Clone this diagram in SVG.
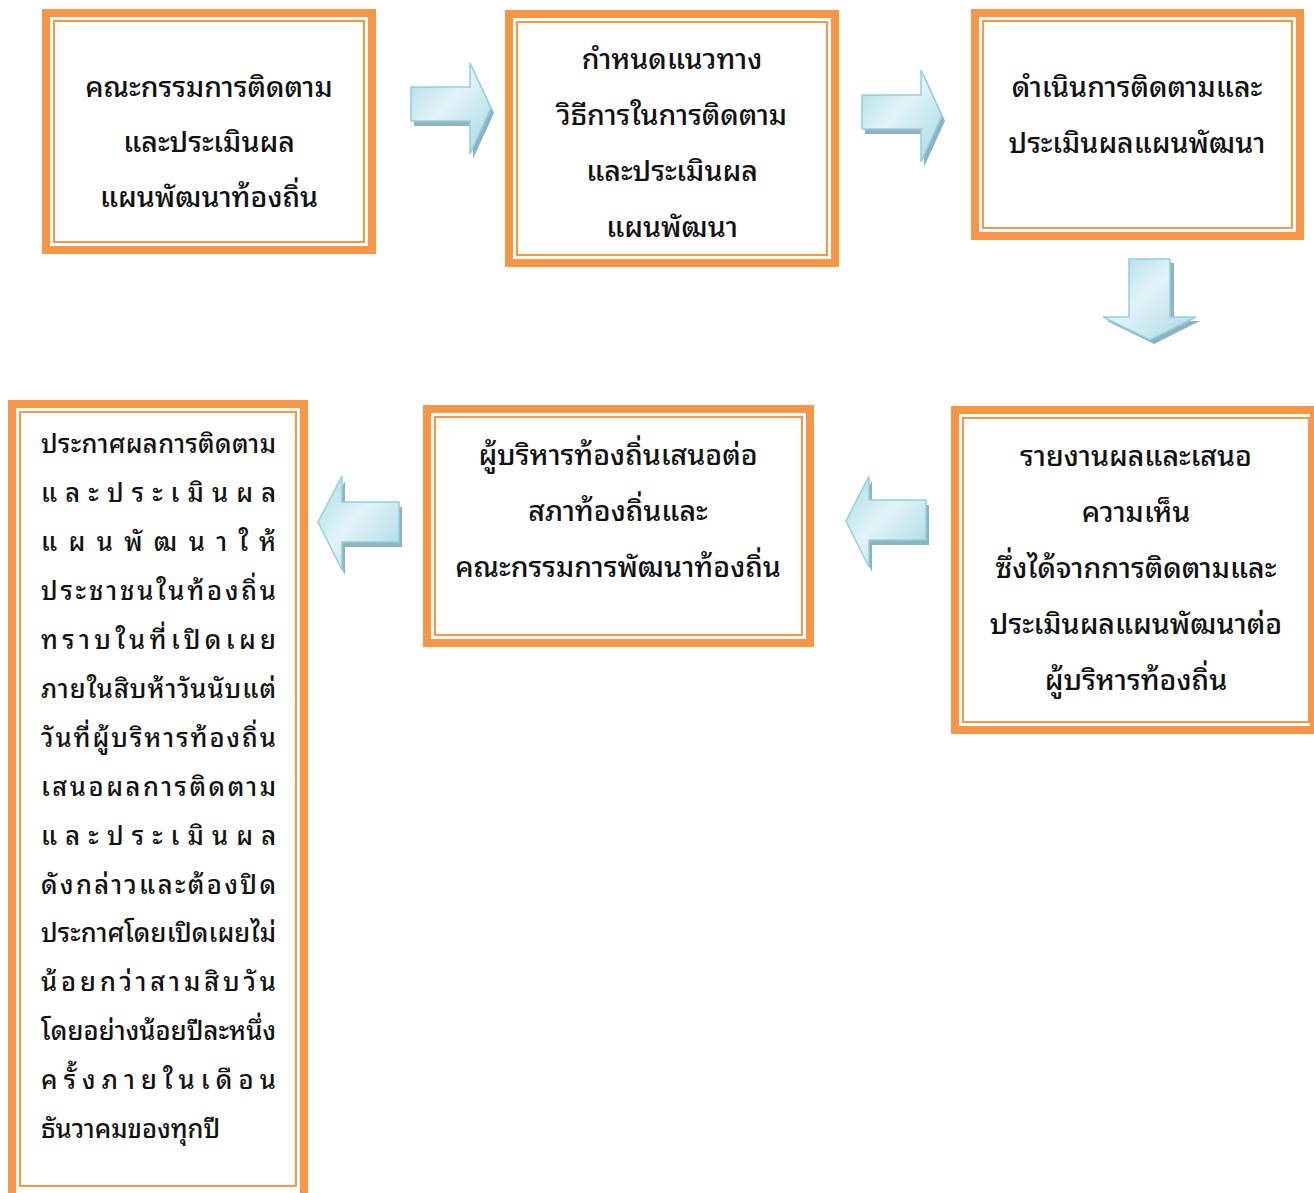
<svg xmlns="http://www.w3.org/2000/svg" width="1314" height="1193" viewBox="0 0 1314 1193">
<defs>
<linearGradient id="ag" x1="0" y1="0" x2="1" y2="1">
<stop offset="0" stop-color="#a9dbe6"/>
<stop offset="0.45" stop-color="#e2f3f8"/>
<stop offset="1" stop-color="#a6d8e4"/>
</linearGradient>
<style>
.outer{fill:none;stroke:#f79646;stroke-width:8}
.inner{fill:none;stroke:#f79646;stroke-width:2}
.bg{fill:#ffffff}
.t{font-family:"Noto Sans Thai Looped","Noto Serif Thai","Noto Sans Thai",Tahoma,"Noto Sans","DejaVu Sans",sans-serif;font-size:28.5px;font-weight:500;fill:#111;text-anchor:middle}
.l{font-family:"Noto Sans Thai Looped","Noto Serif Thai","Noto Sans Thai",Tahoma,"Noto Sans","DejaVu Sans",sans-serif;font-size:25.5px;font-weight:500;fill:#111}
.sh{fill:#8fb3be}
.ar{fill:url(#ag);stroke:#92cfdd;stroke-width:1.5}
</style>
</defs>
<rect width="1314" height="1193" fill="#ffffff"/>

<g id="box1">
<rect class="bg" x="42" y="9" width="334" height="245"/>
<rect class="outer" x="46" y="13" width="326" height="237"/>
<rect class="inner" x="54" y="21" width="310" height="221"/>
<text class="t" x="209" y="97">คณะกรรมการติดตาม</text>
<text class="t" x="209" y="152">และประเมินผล</text>
<text class="t" x="209" y="207">แผนพัฒนาท้องถิ่น</text>
</g>

<g id="box2">
<rect class="bg" x="505" y="10" width="334" height="257"/>
<rect class="outer" x="509" y="14" width="326" height="249"/>
<rect class="inner" x="517" y="22" width="310" height="233"/>
<text class="t" x="672" y="69">กำหนดแนวทาง</text>
<text class="t" x="672" y="125">วิธีการในการติดตาม</text>
<text class="t" x="672" y="181">และประเมินผล</text>
<text class="t" x="672" y="237">แผนพัฒนา</text>
</g>

<g id="box3">
<rect class="bg" x="971" y="9" width="333" height="231"/>
<rect class="outer" x="975" y="13" width="325" height="223"/>
<rect class="inner" x="983" y="21" width="309" height="207"/>
<text class="t" x="1137" y="97">ดำเนินการติดตามและ</text>
<text class="t" x="1137" y="153">ประเมินผลแผนพัฒนา</text>
</g>

<g id="box4">
<rect class="bg" x="951" y="406" width="367" height="328"/>
<rect class="outer" x="955" y="410" width="359" height="320"/>
<rect class="inner" x="963" y="418" width="346" height="304"/>
<text class="t" x="1136" y="466">รายงานผลและเสนอ</text>
<text class="t" x="1136" y="522">ความเห็น</text>
<text class="t" x="1136" y="578">ซึ่งได้จากการติดตามและ</text>
<text class="t" x="1136" y="634">ประเมินผลแผนพัฒนาต่อ</text>
<text class="t" x="1136" y="690">ผู้บริหารท้องถิ่น</text>
</g>

<g id="box5">
<rect class="bg" x="423" y="405" width="391" height="242"/>
<rect class="outer" x="427" y="409" width="383" height="234"/>
<rect class="inner" x="435" y="417" width="367" height="218"/>
<text class="t" x="618" y="465">ผู้บริหารท้องถิ่นเสนอต่อ</text>
<text class="t" x="618" y="521">สภาท้องถิ่นและ</text>
<text class="t" x="618" y="577">คณะกรรมการพัฒนาท้องถิ่น</text>
</g>

<g id="box6">
<rect class="bg" x="8" y="400" width="300" height="800"/>
<rect class="outer" x="12" y="404" width="292" height="800"/>
<rect class="inner" x="20" y="412" width="276" height="774"/>
<text class="l" x="41" y="453" textLength="235" lengthAdjust="spacing">ประกาศผลการติดตาม</text>
<text class="l" x="41" y="502" textLength="235" lengthAdjust="spacing">และประเมินผล</text>
<text class="l" x="41" y="551" textLength="235" lengthAdjust="spacing">แผนพัฒนาให้</text>
<text class="l" x="41" y="600" textLength="235" lengthAdjust="spacing">ประชาชนในท้องถิ่น</text>
<text class="l" x="41" y="649" textLength="235" lengthAdjust="spacing">ทราบในที่เปิดเผย</text>
<text class="l" x="41" y="698" textLength="235" lengthAdjust="spacing">ภายในสิบห้าวันนับแต่</text>
<text class="l" x="41" y="747" textLength="235" lengthAdjust="spacing">วันที่ผู้บริหารท้องถิ่น</text>
<text class="l" x="41" y="796" textLength="235" lengthAdjust="spacing">เสนอผลการติดตาม</text>
<text class="l" x="41" y="845" textLength="235" lengthAdjust="spacing">และประเมินผล</text>
<text class="l" x="41" y="894" textLength="235" lengthAdjust="spacing">ดังกล่าวและต้องปิด</text>
<text class="l" x="41" y="942" textLength="235" lengthAdjust="spacing">ประกาศโดยเปิดเผยไม่</text>
<text class="l" x="41" y="991" textLength="235" lengthAdjust="spacing">น้อยกว่าสามสิบวัน</text>
<text class="l" x="41" y="1040" textLength="235" lengthAdjust="spacing">โดยอย่างน้อยปีละหนึ่ง</text>
<text class="l" x="41" y="1089" textLength="235" lengthAdjust="spacing">ครั้งภายในเดือน</text>
<text class="l" x="41" y="1138">ธันวาคมของทุกปี</text>
</g>

<g id="connectors">
<g id="arrow1">
<path class="sh" transform="translate(3,5)" d="M411,87 H470 V63 L491,108 L470,154 V121 H411 Z"/>
<path class="ar" d="M411,87 H470 V63 L491,108 L470,154 V121 H411 Z"/>
</g>
<g id="arrow2">
<path class="sh" transform="translate(3,5)" d="M862,95 H921 V70 L942,116 L921,162 V129 H862 Z"/>
<path class="ar" d="M862,95 H921 V70 L942,116 L921,162 V129 H862 Z"/>
</g>
<g id="arrow3">
<path class="sh" transform="translate(4,4)" d="M1129,259 H1170 V317 H1196 L1150,340 L1103,317 H1129 Z"/>
<path class="ar" d="M1129,259 H1170 V317 H1196 L1150,340 L1103,317 H1129 Z"/>
</g>
<g id="arrow4">
<path class="sh" transform="translate(3,5)" d="M399,502 H342 V476 L318,522 L342,570 V542 H399 Z"/>
<path class="ar" d="M399,502 H342 V476 L318,522 L342,570 V542 H399 Z"/>
</g>
<g id="arrow5">
<path class="sh" transform="translate(3,5)" d="M926,500 H869 V476 L846,521 L869,567 V540 H926 Z"/>
<path class="ar" d="M926,500 H869 V476 L846,521 L869,567 V540 H926 Z"/>
</g>
</g>
</svg>
